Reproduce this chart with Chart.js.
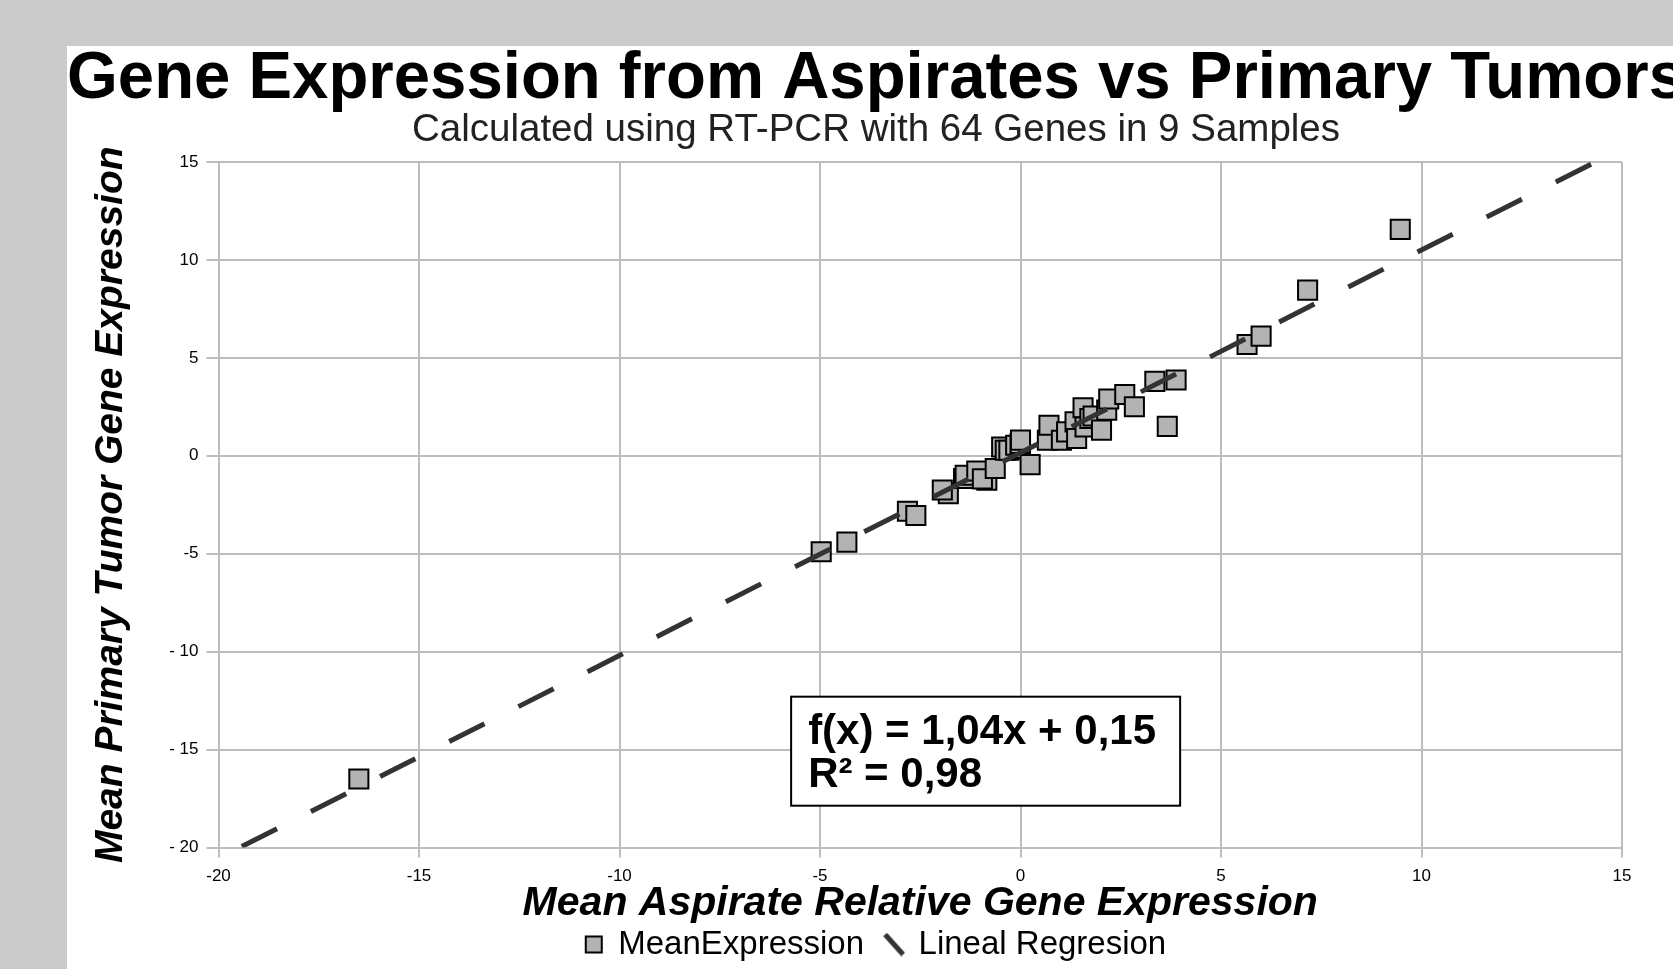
<!DOCTYPE html>
<html>
<head>
<meta charset="utf-8">
<script src="https://cdn.jsdelivr.net/npm/chart.js@4.4.0/dist/chart.umd.min.js"></script>
<style>
  html, body { margin: 0; padding: 0; background: #cbcbcb; overflow: hidden; width: 1673px; height: 969px; }
  #wrap { position: absolute; left: 67px; top: 46px; background: #fff; }
  canvas { display: block; }
</style>
</head>
<body>
<div id="wrap"><canvas id="gx" width="1618" height="925"></canvas></div>
<script>
// mean aspirate (x) vs mean primary tumor (y)
let aspirateX = [-16.5, -4.97, -4.33, -2.82, -2.61, -1.80, -1.95, -1.42, -1.38, -1.09,
    -0.84, -0.95, -0.63, -0.47, -0.38, -0.29, -0.12, 0.0, -0.01, 0.0,
    0.24, 0.67, 0.71, 1.02, 1.15, 1.36, 1.40, 1.56, 1.61, 1.73,
    1.81, 2.02, 2.15, 2.20, 2.60, 2.84, 3.35, 3.88, 3.66, 5.65,
    6.0, 7.16, 9.47];
let tumorY = [-16.5, -4.9, -4.41, -2.83, -3.05, -1.93, -1.75, -1.16, -0.99, -0.78,
    -1.25, -1.18, -0.65, 0.45, 0.28, 0.28, 0.54, 0.37, 0.63, 0.8,
    -0.45, 0.79, 1.56, 0.79, 1.22, 1.73, 0.88, 2.45, 1.47, 1.9,
    2.03, 1.31, 2.33, 2.9, 3.13, 2.5, 3.8, 3.87, 1.5, 5.68,
    6.11, 8.46, 11.56];

// regression line end points as drawn
let trendX = [-19.42, 14.24];
let trendY = [-19.95, 14.9];

let xTickValues = [-20, -15, -10, -5, 0, 5, 10, 15];
let xTickText = ['-20', '-15', '-10', '-5', '0', '5', '10', '15'];
let yTickValues = [-20, -15, -10, -5, 0, 5, 10, 15];
let yTickText = ['- 20', '- 15', '- 10', '-5', '0', '5', '10', '15'];

let eqLines = ['f(x) = 1,04x + 0,15', 'R\u00b2 = 0,98'];
let eqAnchor = [-5.72, -12.3]; // top-left corner of the box, in data units

const gridColor = '#bdbdbd';
const fam = '"Liberation Sans", Arial, sans-serif';

// legend symbol for the regression: a short thick diagonal stroke
const trendIcon = document.createElement('canvas');
trendIcon.width = 22;
trendIcon.height = 24;
const ti = trendIcon.getContext('2d');
ti.strokeStyle = '#333';
ti.lineWidth = 5;
ti.beginPath();
ti.moveTo(2, 2);
ti.lineTo(20, 22);
ti.stroke();

const eqBox = {
    id: 'eqBox',
    afterDatasetsDraw(chart) {
        const ctx = chart.ctx;
        const x0 = chart.scales.x.getPixelForValue(eqAnchor[0]);
        const y0 = chart.scales.y.getPixelForValue(eqAnchor[1]);
        ctx.save();
        ctx.fillStyle = '#fff';
        ctx.strokeStyle = '#000';
        ctx.lineWidth = 2;
        ctx.fillRect(x0, y0, 389, 109);
        ctx.strokeRect(x0, y0, 389, 109);
        ctx.fillStyle = '#000';
        ctx.font = 'bold 42px ' + fam;
        ctx.textBaseline = 'alphabetic';
        ctx.fillText(eqLines[0], x0 + 17, y0 + 47);
        ctx.fillText(eqLines[1], x0 + 17, y0 + 90);
        ctx.restore();
    }
};

const gx = document.getElementById('gx').getContext('2d');
const gxChart = new Chart(gx, {
    type: 'scatter',
    data: {
        datasets: [
            {
                label: 'MeanExpression',
                data: aspirateX.map((v, i) => ({x: v, y: tumorY[i]})),
                pointStyle: 'rect',
                pointRadius: 13.5,
                pointBorderWidth: 2,
                pointBackgroundColor: '#b3b3b3',
                pointBorderColor: '#000',
                backgroundColor: '#b3b3b3',
                borderColor: '#000',
                order: 2
            },
            {
                label: 'Lineal Regresion',
                data: trendX.map((v, i) => ({x: v, y: trendY[i]})),
                showLine: true,
                borderColor: '#333',
                borderWidth: 5,
                borderDash: [39.5, 38],
                borderCapStyle: 'butt',
                pointRadius: 0,
                pointStyle: trendIcon,
                pointBorderWidth: 0,
                order: 1
            }
        ]
    },
    options: {
        responsive: false,
        animation: false,
        scales: {
            x: {
                type: 'linear',
                min: -20,
                max: 15,
                afterFit(s) { s.height = 58.5; },
                afterBuildTicks(s) { s.ticks = xTickValues.map(v => ({value: v})); },
                ticks: {
                    padding: 9,
                    color: '#000',
                    font: { family: fam, size: 17 },
                    maxRotation: 0,
                    callback: v => xTickText[xTickValues.indexOf(v)]
                },
                grid: { color: gridColor, lineWidth: 2, tickLength: 10 },
                border: { color: gridColor, width: 2 },
                title: {
                    display: true,
                    text: 'Mean Aspirate Relative Gene Expression',
                    color: '#000',
                    font: { family: fam, size: 41, weight: 'bold', style: 'italic', lineHeight: 1 },
                    padding: { top: 0, bottom: -18 }
                }
            },
            y: {
                type: 'linear',
                min: -20,
                max: 15,
                afterFit(s) { s.width = 151.5; },
                afterBuildTicks(s) { s.ticks = yTickValues.map(v => ({value: v})); },
                ticks: {
                    padding: 8,
                    color: '#000',
                    font: { family: fam, size: 17 },
                    callback: v => yTickText[yTickValues.indexOf(v)]
                },
                grid: { color: gridColor, lineWidth: 2, tickLength: 12 },
                border: { color: gridColor, width: 2 },
                title: {
                    display: true,
                    text: 'Mean Primary Tumor Gene Expression',
                    color: '#000',
                    font: { family: fam, size: 39, weight: 'bold', style: 'italic', lineHeight: 1 },
                    padding: { top: 25, bottom: 0 }
                }
            },
            // empty strip on the right of the plot
            yRight: {
                position: 'right',
                display: true,
                afterFit(s) { s.width = 63; },
                grid: { display: false },
                ticks: { display: false },
                border: { display: false }
            }
        },
        plugins: {
            title: {
                display: true,
                text: 'Gene Expression from Aspirates vs Primary Tumors',
                color: '#000',
                font: { family: fam, size: 67.5, weight: 'bold', lineHeight: 0.9 },
                padding: { top: 3, bottom: 1.75 }
            },
            subtitle: {
                display: true,
                text: 'Calculated using RT-PCR with 64 Genes in 9 Samples',
                color: '#222',
                font: { family: fam, size: 38.5, weight: 'normal', lineHeight: 1 },
                padding: { top: 0, bottom: 12 }
            },
            legend: {
                position: 'bottom',
                labels: {
                    usePointStyle: true,
                    boxWidth: 16,
                    boxHeight: 16,
                    padding: 22,
                    color: '#000',
                    font: { family: fam, size: 33 },
                    sort: (a, b) => a.datasetIndex - b.datasetIndex
                }
            },
            tooltip: { enabled: false }
        }
    },
    plugins: [eqBox]
});
</script>
</body>
</html>
